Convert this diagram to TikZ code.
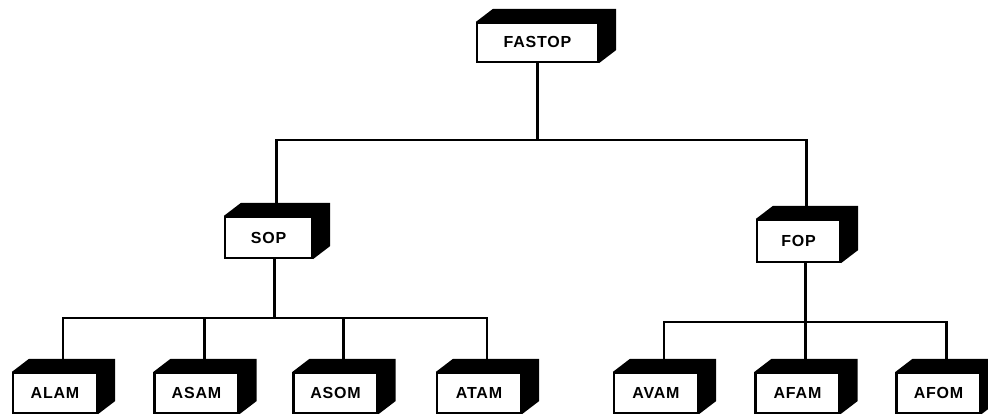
\documentclass[tikz,border=0pt]{standalone}
\usepackage{fontspec}
\setmainfont{Liberation Sans}
\begin{document}
\begin{tikzpicture}[
    x=1pt, y=1pt,
    blk/.style={draw, line width=2.2pt, fill=white, minimum width=84pt, minimum height=40pt,
        inner sep=0pt, font=\fontsize{16}{18}\selectfont\bfseries\addfontfeature{LetterSpace=5}},
    link/.style={line width=2.6pt, line join=miter},
]

% Page frame
\useasboundingbox (0,0) rectangle (988,419);

% Block depth and connector offset
\def\dx{17}  % depth right
\def\dy{13}  % depth up
\def\off{8}  % connector shift

% Bar heights
\coordinate (tb) at (0,279);
\coordinate (sb) at (0,101);
\coordinate (fb) at (0,97);

% Top level
\node[blk, minimum width=121pt, minimum height=39pt] (fastop) at (537.5, 376.5) {FASTOP};

% Second level
\node[blk, minimum width=87pt, minimum height=41pt] (sop) at (268.5, 181.5) {SOP};
\node[blk, minimum width=83pt, minimum height=42pt] (fop) at (798.5, 178) {FOP};

% Bottom level
\node[blk] (alam) at (55, 26) {ALAM};
\node[blk] (asam) at (196.5, 26) {ASAM};
\node[blk] (asom) at (335.5, 26) {ASOM};
\node[blk] (atam) at (479, 26) {ATAM};
\node[blk] (avam) at (656, 26) {AVAM};
\node[blk] (afam) at (797.5, 26) {AFAM};
\node[blk] (afom) at (938.5, 26) {AFOM};

% Black top and side of every block
\foreach \n in {fastop,sop,fop,alam,asam,asom,atam,avam,afam,afom}
    \fill[black] (\n.north west) -- ++(\dx,\dy) -| ([shift={(\dx,\dy)}]\n.south east)
        -- (\n.south east) -- (\n.north east) -- cycle;

% FASTOP to SOP and FOP
\draw[link] (fastop.south) -- (fastop.south |- tb);
\draw[link] ([xshift=\off]sop.north) |- ([xshift=\off]fop.north |- tb) -- ([xshift=\off]fop.north);

% SOP branch
\draw[link] ([xshift=6pt]sop.south) -- ([xshift=6pt]sop.south |- sb);
\draw[link] ([xshift=\off]alam.north) |- ([xshift=\off]atam.north |- sb) -- ([xshift=\off]atam.north);
\foreach \n in {asam,asom}
    \draw[link] ([xshift=\off]\n.north) -- ([xshift=\off]\n.north |- sb);

% FOP branch
\draw[link] ([xshift=7pt]fop.south) -- ([xshift=7pt]fop.south |- fb);
\draw[link] ([xshift=\off]avam.north) |- ([xshift=\off]afom.north |- fb) -- ([xshift=\off]afom.north);
\draw[link] ([xshift=\off]afam.north) -- ([xshift=\off]afam.north |- fb);

\end{tikzpicture}
\end{document}
